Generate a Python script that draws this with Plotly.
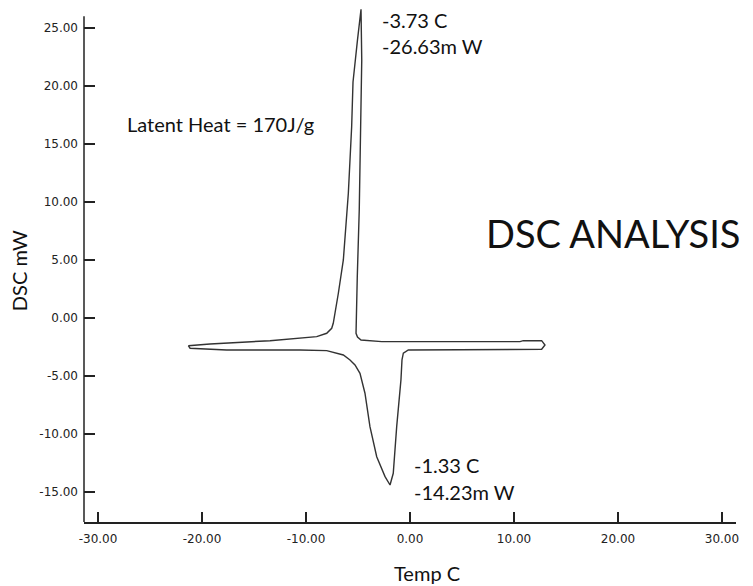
import plotly.graph_objects as go

# DSC loop (Temp C, DSC mW)
temp = [-21.32, -19.23, -13.46, -10.58, -8.97, -8.01, -7.53, -7.38, -7.05, -6.89,
        -6.41, -5.93, -5.61, -5.48, -5.05, -4.71,
        -4.64, -4.74, -4.88, -5.07, -5.19, -5.05, -4.71, -2.72, 10.58, 10.89,
        12.66, 12.98, 12.66, -0.16, -0.64, -0.77, -0.87, -1.28, -1.61, -1.92,
        -2.40, -3.20, -3.85, -4.33, -4.81, -5.29, -5.77, -6.41, -8.01, -10.58,
        -13.46, -17.63, -21.15, -21.32]
dsc = [-2.39, -2.24, -1.96, -1.75, -1.61, -1.32, -0.89, -0.46, 1.55, 2.13,
       5.00, 10.75, 16.49, 20.34, 23.97, 26.61,
       22.24, 16.49, 9.31, 3.56, -1.32, -1.64, -1.90, -2.04, -2.04, -1.96,
       -1.96, -2.33, -2.70, -2.76, -3.04, -3.62, -5.34, -9.37, -13.39, -14.40,
       -13.68, -11.96, -9.37, -6.49, -4.77, -4.05, -3.62, -3.19, -2.82, -2.76,
       -2.76, -2.76, -2.61, -2.39]

x_ticks = [-30, -20, -10, 0, 10, 20, 30]
y_ticks = [-15, -10, -5, 0, 5, 10, 15, 20, 25]
x_tick_text = [f"{v:.2f}" for v in x_ticks]
y_tick_text = [f"{v:.2f}" for v in y_ticks]
x_range = [-31.35, 31.35]
y_range = [-17.59, 26.72]
y_axis_top = 26.0

peak_labels = ["-3.73 C", "-26.63m W"]
valley_labels = ["-1.33 C", "-14.23m W"]

TXT = "Lato, 'Open Sans', sans-serif"
TICKF = "'DejaVu Sans', Verdana, sans-serif"

fig = go.Figure()
fig.add_trace(go.Scatter(x=temp, y=dsc, mode="lines",
                         line=dict(color="#333333", width=1.4),
                         hoverinfo="skip", showlegend=False))

axis_common = dict(showgrid=False, zeroline=False, ticks="inside",
                   tickcolor="#222222", tickwidth=1.5,
                   tickfont=dict(family=TICKF, size=12, color="#222222"))

fig.update_xaxes(range=x_range, tickvals=x_ticks, ticktext=x_tick_text,
                 ticklen=10, ticklabelstandoff=5,
                 showline=True, linecolor="#222222", linewidth=1.5,
                 **axis_common)
fig.update_yaxes(range=y_range, tickvals=y_ticks, ticktext=y_tick_text,
                 ticklen=11, showline=False, ticklabelstandoff=5,
                 **axis_common)

fig.add_shape(type="line", xref="paper", x0=0, x1=0, yref="y",
              y0=y_range[0], y1=y_axis_top,
              line=dict(color="#222222", width=1.5))

ann = []
def add(text, x, y, size=20, xref="x", yref="y", xanchor="left", angle=0):
    ann.append(dict(text=text, x=x, y=y, xref=xref, yref=yref,
                    xanchor=xanchor, yanchor="middle", showarrow=False,
                    textangle=angle,
                    font=dict(family=TXT, size=size, color="#111111")))

add(peak_labels[0], -2.85, 25.7)
add(peak_labels[1], -2.85, 23.45)
add(valley_labels[0], 0.2, -12.67)
add(valley_labels[1], 0.2, -15.0)
add("Latent Heat = 170J/g", -27.45, 16.68)
add("DSC ANALYSIS", 7.15, 7.33, size=38)
add("Temp C", 0.526, -0.0992, xref="paper", yref="paper", xanchor="center")
add("DSC mW", -0.0997, 0.490, xref="paper", yref="paper", xanchor="center", angle=-90)

# page body has an 8px margin, so the figure is offset by 8px in the page
fig.update_layout(width=745, height=578,
                  margin=dict(l=76, r=17, t=0, b=64),
                  paper_bgcolor="white", plot_bgcolor="white",
                  annotations=ann, showlegend=False)

fig.write_html("out.html")
